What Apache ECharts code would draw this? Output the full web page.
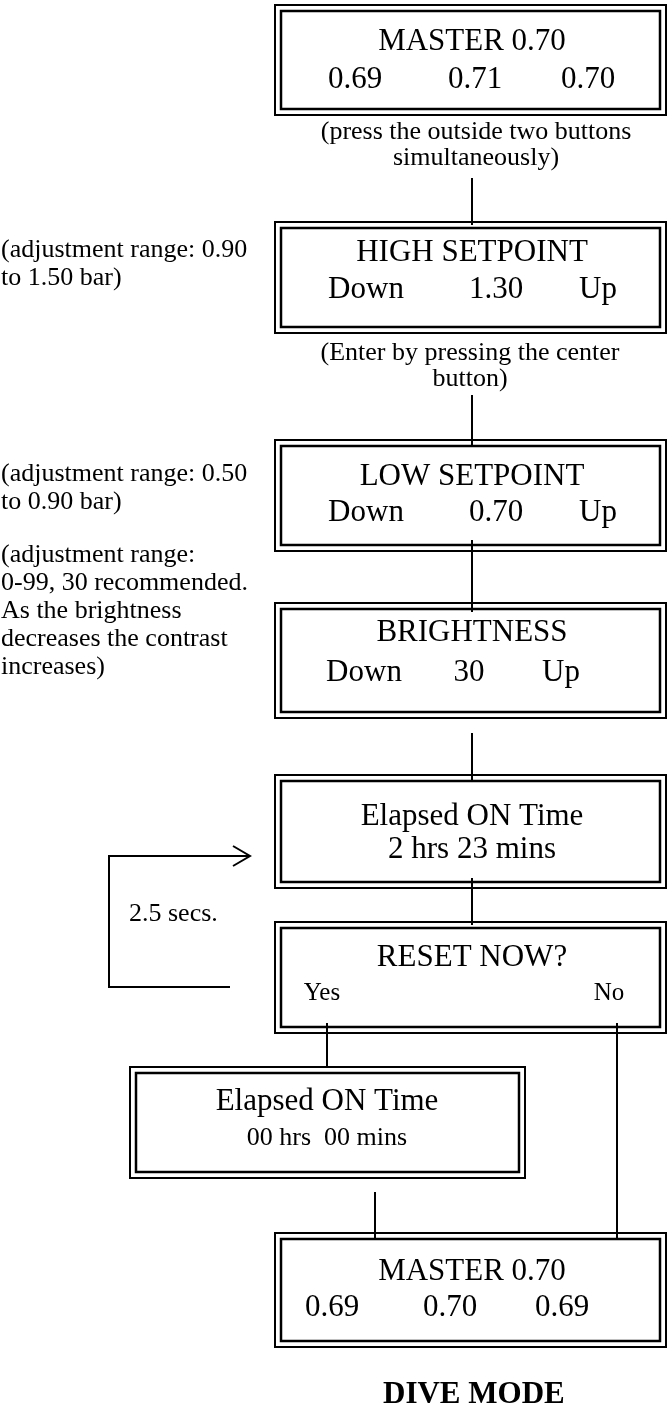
<!DOCTYPE html>
<html>
<head>
<meta charset="utf-8">
<script src="https://cdn.jsdelivr.net/npm/echarts@6/dist/echarts.min.js"></script>
<style>
  html, body { margin: 0; padding: 0; background: #fff; }
  #main { width: 667px; height: 1403px; }
</style>
</head>
<body>
<div id="main"></div>
<script>
  // box texts
  var boxTitles = ['MASTER 0.70', 'HIGH SETPOINT', 'LOW SETPOINT', 'BRIGHTNESS',
    'Elapsed ON Time', 'RESET NOW?', 'Elapsed ON Time', 'MASTER 0.70'];
  var boxRows = [
    ['0.69', '0.71', '0.70'],
    ['Down', '1.30', 'Up'],
    ['Down', '0.70', 'Up'],
    ['Down', '30', 'Up'],
    ['2 hrs 23 mins'],
    ['Yes', 'No'],
    ['00 hrs  00 mins'],
    ['0.69', '0.70', '0.69']
  ];
  // side notes and captions
  var noteLines = [
    ['(adjustment range: 0.90', 'to 1.50 bar)'],
    ['(adjustment range: 0.50', 'to 0.90 bar)'],
    ['(adjustment range:', '0-99, 30 recommended.', 'As the brightness', 'decreases the contrast', 'increases)']
  ];
  var captionLines = [
    ['(press the outside two buttons', 'simultaneously)'],
    ['(Enter by pressing the center', 'button)']
  ];
  var loopLabel = '2.5 secs.';
  var footer = 'DIVE MODE';

  // layout (diagram units = pixels of the page)
  var boxFrames = [
    [275, 5, 666, 115], [275, 222, 666, 333], [275, 440, 666, 551], [275, 603, 666, 718],
    [275, 775, 666, 888], [275, 922, 666, 1033], [130, 1067, 525, 1178], [275, 1233, 666, 1347]
  ];
  var titleX = [472, 472, 472, 472, 472, 472, 327, 472];
  var titleY = [42, 253, 477, 633, 817, 958, 1102, 1272];
  var rowY = [80, 290, 513, 673, 850, 993, 1138, 1308];
  var rowX = [[355, 475, 588], [366, 496, 598], [366, 496, 598], [364, 469, 561],
    [472], [322, 609], [327], [332, 450, 562]];
  var rowSize = [31, 31, 31, 31, 31, 25, 26, 31];
  var noteTop = [250, 474, 555];
  var captionX = [476, 470];
  var captionTop = [132, 353];
  var connectors = [[472, 178, 225], [472, 395, 447], [472, 540, 612], [472, 733, 780],
    [472, 878, 925], [327, 1023, 1067], [617, 1023, 1238], [375, 1192, 1238]];
  var loopPath = [[230, 987], [109, 987], [109, 856], [250, 856]];

  var serif = '"Liberation Serif", "Times New Roman", serif';
  var ink = '#000';

  function txt(p, s, size, align) {
    return {
      type: 'text',
      style: {
        x: p[0], y: p[1], text: s, fill: ink,
        font: size + 'px ' + serif,
        align: align || 'center', verticalAlign: 'middle'
      }
    };
  }

  var myChart = echarts.init(document.getElementById('main'));
  myChart.setOption({
    animation: false,
    backgroundColor: '#fff',
    title: {
      text: footer,
      left: 378,
      top: 1374,
      textStyle: { fontFamily: serif, fontSize: 31, fontWeight: 'bold', color: ink }
    },
    grid: { left: 0, right: 0, top: 0, bottom: 0 },
    xAxis: { type: 'value', min: 0, max: 667, show: false },
    yAxis: { type: 'value', min: 0, max: 1403, inverse: true, show: false },
    series: [
      {
        // double framed boxes with their texts
        type: 'custom',
        data: boxFrames,
        encode: { x: [0, 2], y: [1, 3] },
        z: 2,
        renderItem: function (params, api) {
          var i = params.dataIndex;
          var a = api.coord([api.value(0), api.value(1)]);
          var b = api.coord([api.value(2), api.value(3)]);
          var w = b[0] - a[0], h = b[1] - a[1];
          var kids = [
            { type: 'rect', shape: { x: a[0], y: a[1], width: w, height: h },
              style: { fill: '#fff', stroke: ink, lineWidth: 2 } },
            { type: 'rect', shape: { x: a[0] + 6, y: a[1] + 6, width: w - 12, height: h - 12 },
              style: { fill: 'none', stroke: ink, lineWidth: 2.5 } },
            txt(api.coord([titleX[i], titleY[i]]), boxTitles[i], 31)
          ];
          boxRows[i].forEach(function (s, j) {
            kids.push(txt(api.coord([rowX[i][j], rowY[i]]), s, rowSize[i]));
          });
          return { type: 'group', children: kids };
        }
      },
      {
        // vertical connectors
        type: 'custom',
        data: connectors,
        encode: { x: 0, y: [1, 2] },
        z: 3,
        renderItem: function (params, api) {
          var a = api.coord([api.value(0), api.value(1)]);
          var b = api.coord([api.value(0), api.value(2)]);
          return { type: 'line', shape: { x1: a[0], y1: a[1], x2: b[0], y2: b[1] },
            style: { stroke: ink, lineWidth: 2 } };
        }
      },
      {
        // left notes
        type: 'custom',
        data: noteTop.map(function (y) { return [1, y]; }),
        z: 2,
        renderItem: function (params, api) {
          var i = params.dataIndex;
          var kids = noteLines[i].map(function (s, j) {
            return txt(api.coord([api.value(0), api.value(1) + j * 28]), s, 26, 'left');
          });
          return { type: 'group', children: kids };
        }
      },
      {
        // captions under boxes
        type: 'custom',
        data: captionTop.map(function (y, i) { return [captionX[i], y]; }),
        z: 2,
        renderItem: function (params, api) {
          var i = params.dataIndex;
          var kids = captionLines[i].map(function (s, j) {
            return txt(api.coord([api.value(0), api.value(1) + j * 26]), s, 26);
          });
          return { type: 'group', children: kids };
        }
      },
      {
        // 2.5 secs loop back arrow
        type: 'custom',
        data: [[129, 914]],
        z: 2,
        renderItem: function (params, api) {
          var pts = loopPath.map(function (p) { return api.coord(p); });
          var tip = pts[pts.length - 1];
          return {
            type: 'group',
            children: [
              { type: 'polyline', shape: { points: pts }, style: { stroke: ink, lineWidth: 2, fill: 'none' } },
              { type: 'polyline', shape: { points: [[tip[0] - 17, tip[1] - 10], tip, [tip[0] - 17, tip[1] + 10]] },
                style: { stroke: ink, lineWidth: 2, fill: 'none' } },
              txt(api.coord([api.value(0), api.value(1)]), loopLabel, 26, 'left')
            ]
          };
        }
      }
    ]
  });
</script>
</body>
</html>
